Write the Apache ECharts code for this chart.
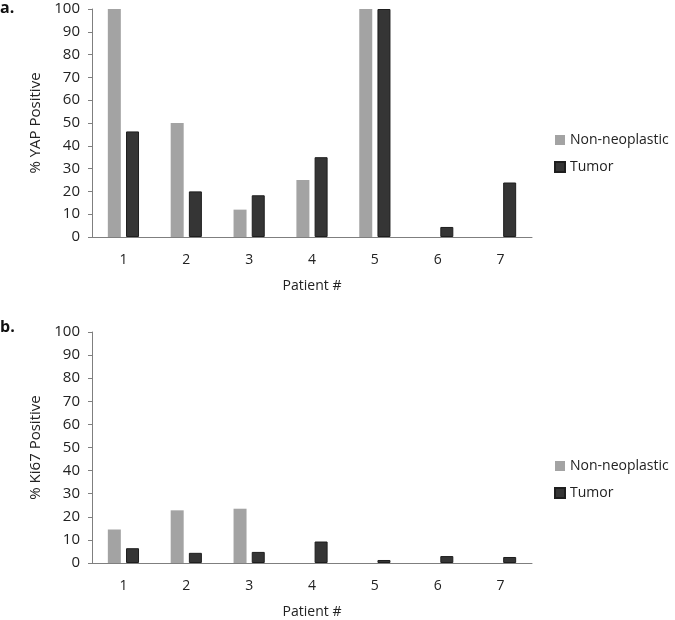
<!DOCTYPE html>
<html>
<head>
<meta charset="utf-8">
<script src="https://cdn.jsdelivr.net/npm/echarts@6/dist/echarts.min.js"></script>
<style>html,body{margin:0;padding:0;background:#fff}#c{width:675px;height:620px}</style>
</head>
<body>
<div id="c"></div>
<script>
const patients = ['1','2','3','4','5','6','7'];
const seriesNames = ['Non-neoplastic','Tumor'];
const yapNonNeo = [100, 50, 12, 25, 100, 0, 0];
const yapTumor = [46.3, 20, 18.3, 35, 100, 4.4, 23.9];
const ki67NonNeo = [14.5, 22.8, 23.5, 0, 0, 0, 0];
const ki67Tumor = [6.4, 4.4, 4.8, 9.3, 1.3, 3.0, 2.6];
const yTitles = ['% YAP Positive', '% Ki67 Positive'];
const xTitle = 'Patient #';

const FONT = '"Open Sans", sans-serif';
const GRAY = '#a3a3a3', DARK = '#353535';
const chart = echarts.init(document.getElementById('c'));

const grids = [
  {left: 92, width: 440, top: 9, height: 228},
  {left: 92, width: 440, top: 332, height: 233}
];
function xAx(i){ return {
  type:'category', gridIndex:i, data:patients,
  axisLine:{lineStyle:{color:'#7f7f7f', width:1}},
  axisTick:{show:false},
  axisLabel:{color:'#222', fontFamily:FONT, fontSize:14, margin:16},
  name:xTitle, nameLocation:'middle', nameGap:42,
  nameTextStyle:{color:'#222', fontFamily:FONT, fontSize:14}
};}
function yAx(i){ return {
  type:'value', gridIndex:i, min:0, max:100, interval:10,
  axisLine:{show:true, lineStyle:{color:'#7f7f7f', width:1}},
  axisTick:{show:true, length:4, lineStyle:{color:'#7f7f7f'}},
  splitLine:{show:false},
  axisLabel:{color:'#222', fontFamily:FONT, fontSize:15, margin:12},
  name:yTitles[i], nameLocation:'middle', nameGap:48, nameRotate:90,
  nameTextStyle:{color:'#222', fontFamily:FONT, fontSize:15}
};}
function bar(name, data, i, color){ return {
  type:'bar', name:name, data:data, xAxisIndex:i, yAxisIndex:i,
  barWidth:13, barGap:'40%',
  itemStyle:{color:color, borderColor: color===DARK ? '#1e1e1e' : GRAY, borderWidth: color===DARK ? 1 : 0},
  silent:true, animation:false
};}
function legend(top){ return {
  data:seriesNames, orient:'vertical', left:549, top:top,
  icon:'rect', itemWidth:10, itemHeight:10, itemGap:13,
  textStyle:{color:'#222', fontFamily:FONT, fontSize:14},
  selectedMode:false
};}
chart.setOption({
  animation:false,
  grid:grids,
  xAxis:[xAx(0), xAx(1)],
  yAxis:[yAx(0), yAx(1)],
  legend:[legend(128), legend(454)],
  graphic:[
    {type:'text', left:0, top:0, style:{text:'a.', font:'bold 16px "Open Sans", sans-serif', fill:'#111'}},
    {type:'text', left:0, top:319, style:{text:'b.', font:'bold 16px "Open Sans", sans-serif', fill:'#111'}}
  ],
  series:[
    bar(seriesNames[0], yapNonNeo, 0, GRAY),
    bar(seriesNames[1], yapTumor, 0, DARK),
    bar(seriesNames[0], ki67NonNeo, 1, GRAY),
    bar(seriesNames[1], ki67Tumor, 1, DARK)
  ]
});
</script>
</body>
</html>
